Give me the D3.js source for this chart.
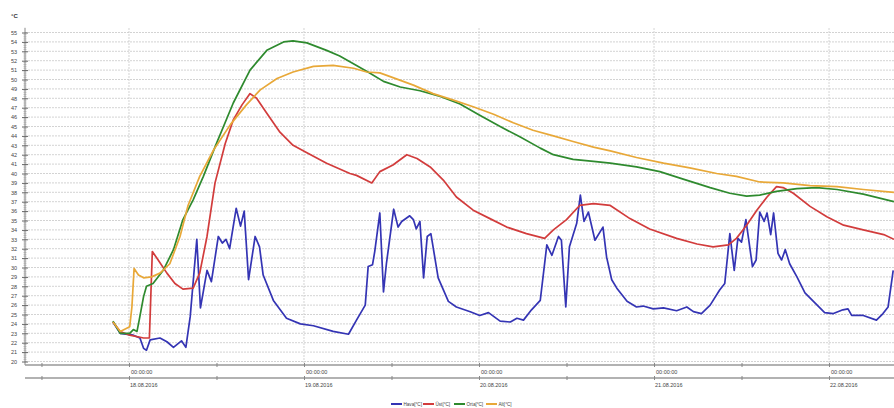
<!DOCTYPE html>
<html>
<head>
<meta charset="utf-8">
<script src="https://cdn.jsdelivr.net/npm/d3@7"></script>
<style>
  html, body { margin: 0; padding: 0; background: #fff; }
  svg { display: block; font-family: "Liberation Sans", Arial, sans-serif; }
</style>
</head>
<body>
<svg id="chart" width="894" height="408"></svg>
<script>
// ---- Data (hours relative to 18.08.2016 00:00:00) ----
const seriesNames = ["Hava[°C]", "Üst[°C]", "Orta[°C]", "Alt[°C]"];
const seriesColors = ["#3434b4", "#d23c3c", "#2e8a2e", "#e8a838"];

const havaHours = [-2.2,-1.2,0.6,1.5,2.0,2.4,2.9,4.25,5.2,6.1,7.2,7.8,8.4,9.3,9.8,10.7,11.3,12.25,12.8,13.3,13.8,14.7,15.3,15.8,16.4,17.3,17.9,18.4,19.8,21.6,23.5,25.3,28.0,30.1,31.2,32.4,32.8,33.4,33.7,34.4,34.9,35.3,36.3,36.9,37.4,38.5,39.0,39.4,39.9,40.4,40.9,41.4,42.4,43.8,44.9,46.8,48.1,49.3,50.9,52.3,53.2,54.1,55.2,56.4,57.3,58.0,58.9,59.3,59.9,60.4,61.4,61.9,62.4,63.0,63.9,65.0,65.5,66.2,66.9,68.3,69.6,70.5,71.9,73.3,75.1,76.5,77.4,78.5,79.7,81.0,81.7,82.4,83.0,83.5,84.0,84.6,85.5,86.0,86.5,87.1,87.5,88.0,88.4,89.0,89.5,90.0,90.6,91.6,92.7,94.1,95.4,96.6,97.9,98.6,99.1,100.7,102.5,103.4,104.1,104.8];
const havaValues = [24.2,23.0,22.8,22.5,21.4,21.2,22.3,22.5,22.1,21.5,22.2,21.5,24.8,33.0,25.7,29.7,28.5,33.3,32.6,33.0,32.0,36.3,34.4,36.0,28.7,33.3,32.2,29.2,26.5,24.6,24.0,23.8,23.2,22.9,24.4,26.0,30.1,30.3,31.7,35.8,27.4,30.4,36.2,34.3,34.9,35.5,35.1,34.1,34.9,28.9,33.3,33.6,28.9,26.4,25.8,25.3,24.9,25.2,24.3,24.2,24.6,24.4,25.5,26.5,32.4,31.3,33.3,32.9,25.8,32.2,34.7,37.7,34.9,35.9,32.9,34.3,31.1,28.7,27.8,26.4,25.8,25.9,25.6,25.7,25.4,25.8,25.3,25.1,26.0,27.6,28.3,33.6,29.7,33.1,32.7,35.1,30.1,30.8,35.9,34.9,35.8,33.5,35.8,31.5,30.8,31.9,30.4,29.0,27.3,26.2,25.2,25.1,25.5,25.6,24.9,24.9,24.4,25.1,25.8,29.7];

const ustHours = [-2.2,-1.2,0.1,2.0,2.8,3.2,4.0,5.2,6.3,7.4,8.8,9.7,10.7,11.8,13.2,14.3,15.5,16.6,17.5,18.9,20.7,22.5,24.4,27.1,30.3,31.2,33.3,34.4,36.2,38.1,39.5,41.3,43.1,44.9,47.2,49.5,51.8,54.5,57.0,58.2,60.0,61.8,63.7,66.0,68.7,71.4,75.1,77.9,80.1,82.2,83.3,84.7,86.1,87.5,88.8,89.7,91.1,93.4,95.7,98.0,100.7,103.5,104.9];
const ustValues = [24.2,23.2,22.8,22.5,22.5,31.7,30.8,29.4,28.3,27.7,27.8,29.4,33.3,39.0,43.2,45.7,47.3,48.5,48.0,46.4,44.4,43.0,42.2,41.1,40.0,39.8,39.0,40.2,40.9,42.0,41.6,40.7,39.3,37.5,36.1,35.2,34.3,33.6,33.1,34.0,35.1,36.6,36.8,36.6,35.2,34.1,33.1,32.5,32.2,32.4,33.1,34.5,36.1,37.5,38.6,38.5,37.9,36.5,35.4,34.5,34.0,33.5,33.0];

const ortaHours = [-2.2,-1.2,0.1,0.6,1.1,1.4,2.0,2.4,3.3,4.7,6.1,7.4,8.8,10.2,12.0,14.3,16.6,18.9,21.2,22.5,24.4,27.1,28.9,31.2,33.0,34.9,37.2,39.9,42.7,45.4,48.1,50.9,53.6,56.4,58.2,60.9,63.7,66.0,69.6,72.8,76.0,79.7,82.4,84.7,86.5,88.8,91.6,94.3,97.1,100.7,104.9];
const ortaValues = [24.3,23.0,23.0,23.4,23.2,24.4,26.9,28.0,28.3,29.7,31.9,35.1,37.2,39.7,43.2,47.5,51.0,53.1,54.0,54.1,53.9,53.1,52.5,51.5,50.7,49.8,49.2,48.8,48.2,47.4,46.2,45.0,43.9,42.7,42.0,41.5,41.3,41.1,40.7,40.2,39.4,38.5,37.9,37.6,37.7,38.1,38.4,38.5,38.3,37.8,37.0];

const altHours = [-2.2,-1.2,0.1,0.4,0.7,1.3,2.0,3.1,4.25,5.6,7.0,8.1,9.7,11.6,13.9,16.1,18.0,20.3,22.5,25.3,28.0,30.8,32.6,34.4,36.2,39.0,41.7,44.5,47.2,50.0,52.7,55.4,58.2,60.9,63.7,66.0,69.6,73.3,76.9,80.6,83.3,86.5,89.7,93.4,97.1,100.7,104.9];
const altValues = [24.2,23.2,23.7,25.8,29.9,29.2,28.9,29.0,29.4,30.4,33.3,36.6,39.7,42.5,45.2,47.3,48.9,50.1,50.8,51.4,51.5,51.2,50.8,50.7,50.2,49.4,48.5,47.8,47.1,46.3,45.4,44.6,44.0,43.4,42.8,42.4,41.7,41.1,40.6,40.0,39.7,39.1,39.0,38.7,38.6,38.3,38.0];

const dayTickLabels = ["18.08.2016", "19.08.2016", "20.08.2016", "21.08.2016", "22.08.2016"];
const timeTickLabel = "00:00:00";
const yTickValues = d3.range(20, 56);

// ---- Build ----
const base = new Date(2016, 7, 18, 0, 0, 0);
const toDate = h => new Date(base.getTime() + h * 3600e3);
const allSeries = [
  { name: seriesNames[0], color: seriesColors[0], pts: havaHours.map((h, i) => ({ t: toDate(h), v: havaValues[i] })) },
  { name: seriesNames[1], color: seriesColors[1], pts: ustHours.map((h, i) => ({ t: toDate(h), v: ustValues[i] })) },
  { name: seriesNames[2], color: seriesColors[2], pts: ortaHours.map((h, i) => ({ t: toDate(h), v: ortaValues[i] })) },
  { name: seriesNames[3], color: seriesColors[3], pts: altHours.map((h, i) => ({ t: toDate(h), v: altValues[i] })) }
];

const svg = d3.select("#chart");
const plotL = 25, plotR = 894, plotT = 28, axisY1 = 365, axisY2 = 378;

const x = d3.scaleTime()
  .domain([toDate(-14.26), toDate(104.91)])
  .range([plotL, plotR]);
const y = d3.scaleLinear().domain([20, 55]).range([361.5, 32.5]);

svg.append("defs").append("clipPath").attr("id", "clip")
  .append("rect").attr("x", plotL).attr("y", plotT).attr("width", plotR - plotL).attr("height", axisY1 - plotT);

// horizontal gridlines
svg.append("g").selectAll("line").data(yTickValues).join("line")
  .attr("x1", plotL).attr("x2", plotR)
  .attr("y1", d => y(d)).attr("y2", d => y(d))
  .attr("stroke", "#c8c8c8").attr("stroke-width", 0.8).attr("stroke-dasharray", "2,1");

// vertical day gridlines
const dayTicks = dayTickLabels.map((_, i) => d3.timeDay.offset(base, i));
svg.append("g").selectAll("line").data(dayTicks).join("line")
  .attr("x1", d => x(d)).attr("x2", d => x(d))
  .attr("y1", plotT).attr("y2", axisY1)
  .attr("stroke", "#cfcfcf").attr("stroke-width", 0.9).attr("stroke-dasharray", "2,1");

// y axis
const yAxisG = svg.append("g").attr("transform", `translate(${plotL},0)`);
yAxisG.call(d3.axisLeft(y).tickValues(yTickValues).tickSize(3).tickFormat(d3.format("d")))
  .call(g => g.select(".domain").attr("stroke", "#888").attr("d", `M0,${y(55.5)}V${axisY1}`))
  .call(g => g.selectAll(".tick line").attr("stroke", "#666").attr("x2", 3).attr("x1", -3))
  .call(g => g.selectAll("text").attr("font-size", 5.5).attr("fill", "#444").attr("x", -8));
// minor ticks
const minorY = d3.range(20, 55.01, 0.2).filter(v => Math.abs(v - Math.round(v)) > 0.01);
yAxisG.append("g").selectAll("line").data(minorY).join("line")
  .attr("x1", -1.5).attr("x2", 1.5).attr("y1", d => y(d)).attr("y2", d => y(d))
  .attr("stroke", "#999").attr("stroke-width", 0.6);

svg.append("text").attr("x", 11).attr("y", 18).attr("font-size", 6).attr("font-weight", "bold")
  .attr("fill", "#333").text("°C");

// x axes (two rows)
const halfDayTicks = d3.timeHour.every(12).range(toDate(-14.26), toDate(104.91));
const ax1 = svg.append("g").attr("transform", `translate(0,${axisY1})`)
  .call(d3.axisBottom(x).tickValues(halfDayTicks).tickSize(3).tickFormat(""));
const ax2 = svg.append("g").attr("transform", `translate(0,${axisY2})`)
  .call(d3.axisBottom(x).tickValues(halfDayTicks).tickSize(3).tickFormat(""));
[ax1, ax2].forEach(a => {
  a.select(".domain").attr("stroke", "#999").attr("stroke-width", 1.5).attr("d", `M${plotL},0H${plotR}`);
  a.selectAll(".tick line").attr("stroke", "#888").attr("y1", -2).attr("y2", 2);
});
svg.append("g").selectAll("text").data(dayTicks).join("text")
  .attr("x", d => x(d) + 2).attr("y", axisY1 + 9).attr("font-size", 5.5).attr("fill", "#444")
  .text(timeTickLabel);
svg.append("g").selectAll("text").data(dayTicks).join("text")
  .attr("x", d => x(d) + 1).attr("y", axisY2 + 9).attr("font-size", 5.5).attr("fill", "#444")
  .text((d, i) => dayTickLabels[i]);

// lines
const line = d3.line().x(d => x(d.t)).y(d => y(d.v)).curve(d3.curveLinear);
const linesG = svg.append("g").attr("clip-path", "url(#clip)");
allSeries.forEach(s => {
  linesG.append("path").datum(s.pts)
    .attr("fill", "none").attr("stroke", s.color).attr("stroke-width", 1.7)
    .attr("stroke-linejoin", "round").attr("d", line);
});

// legend
const legendX = [391, 423, 454, 486];
const lg = svg.append("g");
allSeries.forEach((s, i) => {
  lg.append("line").attr("x1", legendX[i]).attr("x2", legendX[i] + 11)
    .attr("y1", 404).attr("y2", 404).attr("stroke", s.color).attr("stroke-width", 2);
  lg.append("text").attr("x", legendX[i] + 12.5).attr("y", 405.8).attr("font-size", 4.6)
    .attr("fill", "#444").text(s.name);
});
</script>
</body>
</html>
